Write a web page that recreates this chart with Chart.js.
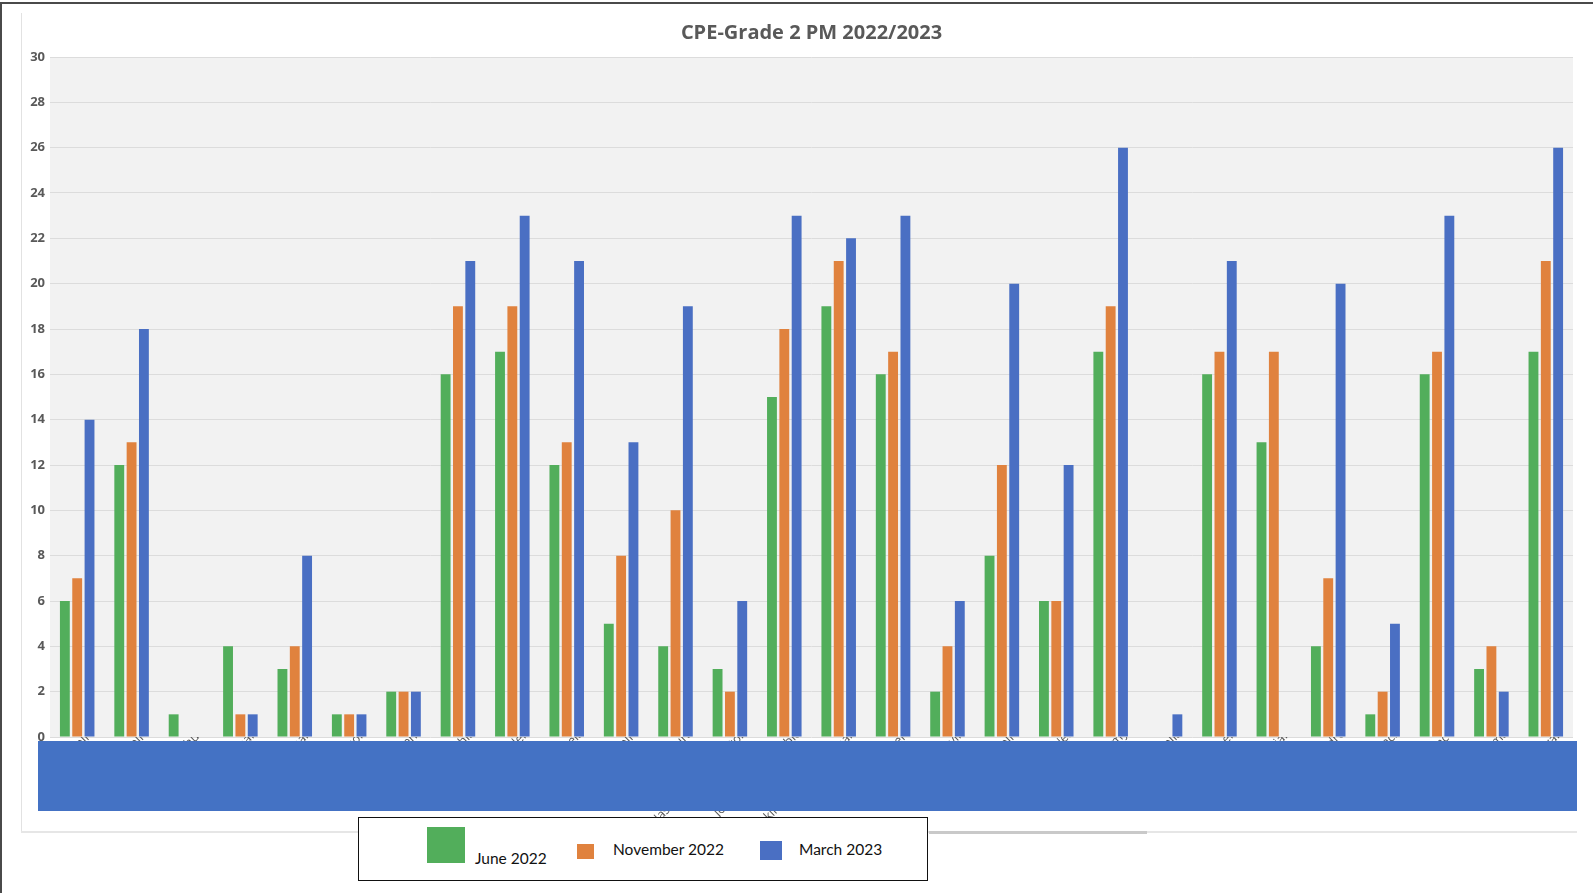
<!DOCTYPE html>
<html>
<head>
<meta charset="utf-8">
<script src="https://cdn.jsdelivr.net/npm/chart.js@4.4.0/dist/chart.umd.min.js"></script>
<style>
  html, body { margin: 0; padding: 0; background: #ffffff; }
  body { width: 1593px; height: 893px; position: relative; overflow: hidden; }
  #wrap { position: absolute; left: 0; top: 0; width: 1593px; height: 893px; }
  .abs { position: absolute; }
  .legtxt { position: absolute; font-family: Lato, "Liberation Sans", sans-serif; font-size: 15.5px; color: #111; white-space: nowrap; line-height: 1; }
</style>
</head>
<body>
<div id="wrap"><canvas id="c" width="1593" height="893"></canvas></div>

<!-- outer frame lines -->
<div class="abs" style="left:0;top:2px;width:1593px;height:2px;background:#4a4a4a;"></div>
<div class="abs" style="left:0;top:2px;width:2px;height:891px;background:#4a4a4a;"></div>
<div class="abs" style="left:21px;top:13px;width:1px;height:819px;background:#e2e2e2;"></div>
<div class="abs" style="left:21px;top:831px;width:1556px;height:2px;background:#e6e6e6;"></div>
<div class="abs" style="left:929px;top:831px;width:218px;height:3px;background:#c9c9c9;"></div>

<!-- blue masking rectangle -->
<div class="abs" style="left:38px;top:741px;width:1539px;height:70px;background:#4472C4;"></div>

<!-- legend -->
<div class="abs" style="left:358px;top:817px;width:568px;height:62px;border:1.5px solid #111;background:#fff;"></div>
<div class="abs" style="left:427px;top:827px;width:38px;height:36px;background:#52AE5B;"></div>
<div class="legtxt" style="left:475px;top:851px;">June 2022</div>
<div class="abs" style="left:577px;top:844px;width:17px;height:15px;background:#E0823E;"></div>
<div class="legtxt" style="left:613px;top:842px;">November 2022</div>
<div class="abs" style="left:760px;top:841px;width:22px;height:19px;background:#4A6FC3;"></div>
<div class="legtxt" style="left:799px;top:842px;">March 2023</div>

<script>
const categories = [
  "Ava Belle", "Mia Michelle", "Arthur", "Ethan", "Nathan", "Jayson", "Vincent",
  "Sophia", "Aiden", "Isabela", "Danielle", "Laura", "Jasmine Anne Brixton",
  "Jonathan Dela Pablo", "Akira Richardson Chan", "Michele", "Kevin", "Gabrielle",
  "Neil", "Amy", "Amelia", "Stephen", "Brian", "Pedro", "Jack", "Grace", "Emma", "Ryan"
];
const june2022 = [6, 12, 1, 4, 3, 1, 2, 16, 17, 12, 5, 4, 3, 15, 19, 16, 2, 8, 6, 17, 0, 16, 13, 4, 1, 16, 3, 17];
const november2022 = [7, 13, 0, 1, 4, 1, 2, 19, 19, 13, 8, 10, 2, 18, 21, 17, 4, 12, 6, 19, 0, 17, 17, 7, 2, 17, 4, 21];
const march2023 = [14, 18, 0, 1, 8, 1, 2, 21, 23, 21, 13, 19, 6, 23, 22, 23, 6, 20, 12, 26, 1, 21, 0, 20, 5, 23, 2, 26];
const seriesNames = ["June 2022", "November 2022", "March 2023"];
const yTicks = [0, 2, 4, 6, 8, 10, 12, 14, 16, 18, 20, 22, 24, 26, 28, 30];
const chartTitle = "CPE-Grade 2 PM 2022/2023";

const plotBg = {
  id: 'plotBg',
  beforeDraw(chart) {
    const { ctx, chartArea: a } = chart;
    ctx.save();
    ctx.fillStyle = '#F2F2F2';
    ctx.fillRect(a.left, a.top, a.right - a.left, a.bottom - a.top);
    ctx.restore();
  }
};

new Chart(document.getElementById('c'), {
  type: 'bar',
  data: {
    labels: categories,
    datasets: [
      { label: seriesNames[0], data: june2022, backgroundColor: '#52AE5B' },
      { label: seriesNames[1], data: november2022, backgroundColor: '#E0823E' },
      { label: seriesNames[2], data: march2023, backgroundColor: '#4A6FC3' }
    ]
  },
  plugins: [plotBg],
  options: {
    responsive: false,
    animation: false,
    devicePixelRatio: 1,
    layout: { padding: { left: 0, right: 20, top: 0, bottom: 0 } },
    datasets: { bar: { categoryPercentage: 0.68, barPercentage: 0.8, borderWidth: 0 } },
    plugins: {
      legend: { display: false },
      tooltip: { enabled: false },
      title: {
        display: true,
        text: chartTitle,
        fullSize: false,
        color: '#595959',
        font: { family: '"Open Sans", sans-serif', size: 20, weight: 'bold' },
        padding: { top: 21.5, bottom: 11.5 }
      }
    },
    scales: {
      x: {
        grid: { display: false },
        border: { display: false },
        ticks: {
          autoSkip: false,
          minRotation: 45,
          maxRotation: 45,
          padding: -19,
          labelOffset: 15,
          color: '#595959',
          font: { family: '"Open Sans", sans-serif', size: 12.5 }
        },
        afterFit(scale) { scale.height = 156; }
      },
      y: {
        min: 0,
        max: 30,
        afterBuildTicks(scale) { scale.ticks = yTicks.map(v => ({ value: v })); },
        grid: { color: '#DCDCDC', lineWidth: 1, drawTicks: false },
        border: { display: false },
        ticks: {
          padding: 5,
          color: '#595959',
          font: { family: '"Open Sans", sans-serif', size: 13, weight: 'bold' }
        },
        afterFit(scale) { scale.width = 50; }
      }
    }
  }
});
</script>
</body>
</html>
